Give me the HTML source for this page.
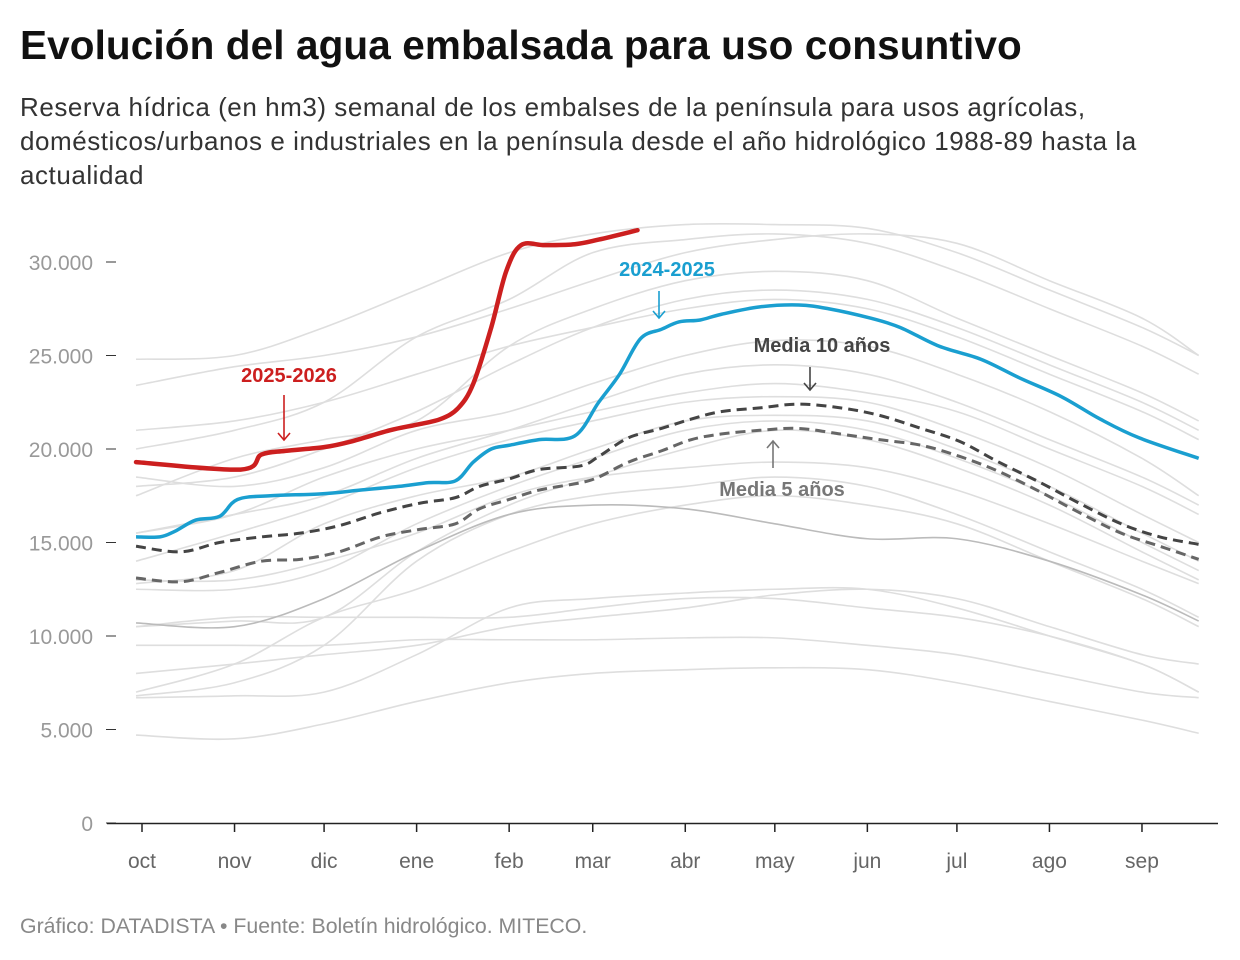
<!DOCTYPE html>
<html><head><meta charset="utf-8"><style>
body{margin:0;background:#fff;font-family:"Liberation Sans",sans-serif;}
#wrap{position:relative;width:1240px;height:960px;overflow:hidden;}
h1{position:absolute;left:20px;top:22px;margin:0;font-size:40.5px;font-weight:bold;color:#111;white-space:nowrap;letter-spacing:0.1px}
#sub{position:absolute;left:20px;top:90px;width:1220px;font-size:26px;line-height:34px;color:#333;white-space:nowrap;letter-spacing:0.55px}
#foot{position:absolute;left:20px;top:914px;font-size:21.3px;color:#888}
svg{position:absolute;left:0;top:0}
</style></head><body>
<div id="wrap">
<h1>Evolución del agua embalsada para uso consuntivo</h1>
<div id="sub">Reserva hídrica (en hm3) semanal de los embalses de la península para usos agrícolas,<br>domésticos/urbanos e industriales en la península desde el año hidrológico 1988-89 hasta la<br>actualidad</div>
<svg id="chart" width="1240" height="960"></svg>
<div id="foot">Gráfico: DATADISTA • Fuente: Boletín hidrológico. MITECO.</div>
</div>
<script>
const monthLabels=["oct","nov","dic","ene","feb","mar","abr","may","jun","jul","ago","sep"];
const monthDays=[0,31,61,92,123,151,182,212,243,273,304,335];
const yTicks=[0,5000,10000,15000,20000,25000,30000];
const yTickLabels=["0","5.000","10.000","15.000","20.000","25.000","30.000"];
const greyDays=[-2,31,61,92,123,151,182,212,243,273,304,335,354];
const greyYears=[
[23400,24400,25000,26000,27500,29000,30500,31200,31500,31000,29000,27000,25000],
[24800,25000,26500,28500,30500,31500,32000,32000,31800,30500,28500,26500,25000],
[20000,21000,22500,26000,28000,30500,31200,31500,31000,29500,27500,25500,24000],
[17500,19500,20500,21500,25500,27500,29000,29500,29000,27000,25000,23000,21500],
[21000,21500,22500,24000,25500,26500,27500,28000,27500,26000,24000,22000,20500],
[18500,18000,19000,21000,22000,23500,25000,25800,25500,24000,22000,19500,17500],
[15500,16500,17500,19500,21000,22500,24000,24500,24000,22500,20500,18500,17000],
[14000,15500,17000,19000,20500,21500,22500,22800,22500,21000,19000,16500,15000],
[12800,13500,16000,17500,18500,20000,21500,21800,21500,20000,18000,15500,14000],
[12500,12500,13500,16000,18000,19500,21000,21500,21000,19500,17500,15000,13500],
[10500,10800,11000,14500,17000,18500,20000,21000,20500,19000,17000,14500,13000],
[7000,8500,11000,12500,14500,16000,17000,17500,17000,16000,14000,12000,10500],
[6800,7500,9500,14000,16500,17500,18000,18500,18000,16500,14500,12500,11000],
[6700,6800,7000,9000,11500,12000,12300,12500,12500,11500,10000,8500,7000],
[10500,11000,11000,11000,11000,11500,12000,12000,11500,11000,10000,8500,7000],
[9500,9500,9500,9800,9800,9800,9900,9900,9500,9000,8000,7000,6700],
[4700,4500,5300,6500,7500,8000,8200,8300,8200,7500,6500,5500,4800],
[8000,8500,9000,9500,10500,11000,11500,12200,12500,12000,10500,9000,8500],
[15500,16500,18500,20000,21000,22000,23000,23500,23000,22000,20000,18000,16500],
[18000,18500,20000,22000,24500,26500,28000,28500,28000,26500,24500,22500,21000],
[13000,13000,14000,15500,17500,18500,19000,19300,19000,17800,16000,14000,12800]
];
const darkGreyYear=[10700,10500,12000,14500,16500,17000,16800,16000,15200,15200,14000,12200,10800];
const redDays=[-2,33,40,48,61,70,83,92,100,106,111,117,122,127,135,145,153,166];
const redValues=[19300,18900,19700,19900,20100,20400,21000,21300,21600,22200,23500,26500,29500,30900,30900,30950,31200,31700];
const blueDays=[-2,6,11,18,26,32,43,60,73,86,96,105,111,117,123,133,145,153,160,167,174,180,187,194,207,220,230,244,254,267,281,294,308,321,334,354];
const blueValues=[15300,15300,15600,16200,16400,17300,17500,17600,17800,18000,18200,18300,19300,20000,20200,20500,20700,22500,24000,25900,26400,26800,26900,27200,27600,27700,27500,27000,26500,25500,24800,23800,22800,21600,20600,19500];
const meanDays=[-2,13,26,40,53,66,80,93,105,113,123,133,147,153,163,174,184,194,207,220,234,247,261,274,287,301,314,328,341,354];
const mean10Values=[14800,14500,15000,15300,15500,15900,16600,17100,17400,18000,18400,18900,19100,19600,20600,21100,21600,22000,22200,22400,22200,21800,21100,20400,19300,18200,17100,16000,15300,14900];
const mean5Values=[13100,12900,13400,14000,14100,14500,15300,15700,16000,16800,17300,17800,18200,18500,19300,19900,20500,20800,21000,21100,20800,20500,20200,19600,18800,17700,16600,15500,14800,14100];

const svg=document.getElementById('chart');const NS="http://www.w3.org/2000/svg";
const x=d=>142+d*2.985;
const y=v=>823-v*(561/30000);
function mk(tag,attrs,parent){const e=document.createElementNS(NS,tag);for(const k in attrs)e.setAttribute(k,attrs[k]);(parent||svg).appendChild(e);return e;}
function pathD(days,vals){const p=days.map((d,i)=>[x(d),y(vals[i])]);let s="M"+p[0][0]+","+p[0][1];
for(let i=0;i<p.length-1;i++){const p0=p[i-1]||p[i],p1=p[i],p2=p[i+1],p3=p[i+2]||p2;
const c1=[p1[0]+(p2[0]-p0[0])/6,p1[1]+(p2[1]-p0[1])/6],c2=[p2[0]-(p3[0]-p1[0])/6,p2[1]-(p3[1]-p1[1])/6];
s+="C"+c1+" "+c2+" "+p2;}return s;}
yTicks.forEach((t,i)=>{
const l=mk('line',{x1:106,x2:116,y1:y(t),y2:y(t),stroke:'#333','stroke-width':1});

const tx=mk('text',{x:93,y:y(t)+8,'text-anchor':'end','font-size':21,fill:'#999','font-family':'Liberation Sans, sans-serif'});
tx.textContent=yTickLabels[i];
});
greyYears.forEach(vals=>{const p=mk('path',{d:pathD(greyDays,vals),fill:'none',stroke:'#dedede','stroke-width':1.6});
});
const dg=mk('path',{d:pathD(greyDays,darkGreyYear),fill:'none',stroke:'#bbb','stroke-width':1.6});

const m5=mk('path',{d:pathD(meanDays,mean5Values),fill:'none',stroke:'#666','stroke-width':3,'stroke-dasharray':'10,6'});

const m10=mk('path',{d:pathD(meanDays,mean10Values),fill:'none',stroke:'#444','stroke-width':3,'stroke-dasharray':'10,6'});

const bl=mk('path',{d:pathD(blueDays,blueValues),fill:'none',stroke:'#1a9fd0','stroke-width':3.5});

const rd=mk('path',{d:pathD(redDays,redValues),fill:'none',stroke:'#cc1f1f','stroke-width':4.5,'stroke-linecap':'round'});

const ax=mk('line',{x1:107,x2:1218,y1:823.5,y2:823.5,stroke:'#222','stroke-width':1.5});

monthDays.forEach((d,i)=>{
const t=mk('line',{x1:x(d),x2:x(d),y1:823,y2:832,stroke:'#222','stroke-width':1.5});

const tx=mk('text',{x:x(d),y:868,'text-anchor':'middle','font-size':21,fill:'#666','font-family':'Liberation Sans, sans-serif'});
tx.textContent=monthLabels[i];
});
function ann(name,label,tx,ty,color,ax1,ay1,ay2){
const t=mk('text',{x:tx,y:ty,'text-anchor':'middle','font-size':20,'font-weight':'bold',fill:color,'font-family':'Liberation Sans, sans-serif'});
t.textContent=label;
const g=mk('g',{stroke:color,'stroke-width':1.6,fill:'none'});

mk('line',{x1:ax1,x2:ax1,y1:ay1,y2:ay2},g);const dir=ay2>ay1?-1:1;
mk('polyline',{points:(ax1-6)+","+(ay2+dir*7)+" "+ax1+","+ay2+" "+(ax1+6)+","+(ay2+dir*7)},g);}
ann('annotation-2025-2026','2025-2026',289,382,'#cc1f1f',284,395,440);
ann('annotation-2024-2025','2024-2025',667,276,'#1a9fd0',659,291,318);
ann('annotation-mean-10','Media 10 años',822,352,'#444',810,367,390);
ann('annotation-mean-5','Media 5 años',782,496,'#777',773,468,441);
</script>
</body></html>
